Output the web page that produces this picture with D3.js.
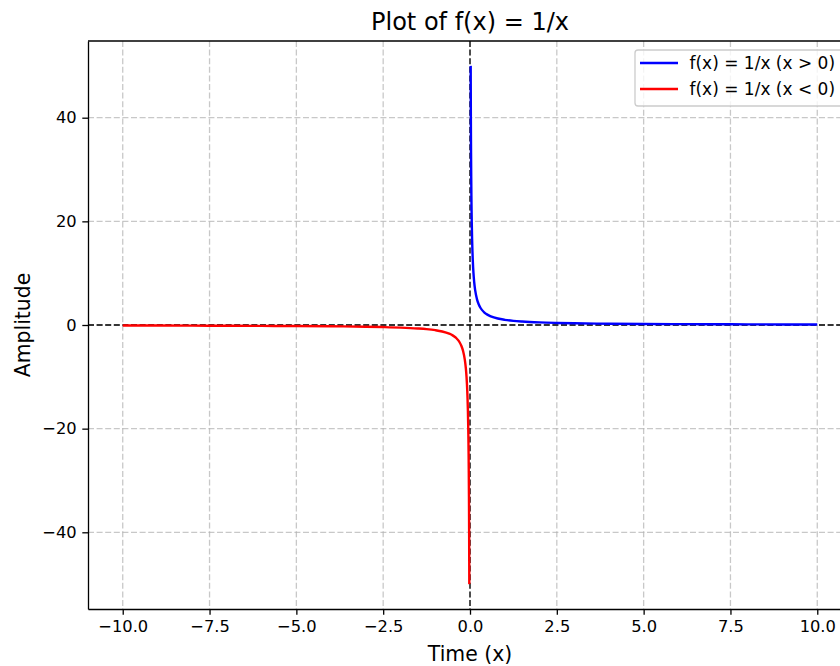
<!DOCTYPE html>
<html><head><meta charset="utf-8">
<script src="https://cdn.jsdelivr.net/npm/d3@7"></script>
<style>body{margin:0;background:#fff}svg{display:block}text{font-family:"DejaVu Sans",sans-serif}</style>
</head><body><svg id="c" width="840" height="666"></svg>
<script>
// data
const posX = [0.02,0.022,0.025,0.028,0.03,0.035,0.04,0.045,0.05,0.06,0.07,0.08,0.1,0.12,0.15,0.2,0.25,0.3,0.4,0.5,0.6,0.8,1,1.25,1.5,2,2.5,3,4,5,6,7,8,9,10];
const posY = [50,45.5,40,35.7,33.3,28.6,25,22.2,20,16.7,14.3,12.5,10,8.33,6.67,5,4,3.33,2.5,2,1.67,1.25,1,0.8,0.67,0.5,0.4,0.33,0.25,0.2,0.17,0.14,0.125,0.11,0.1];
const negX = [-10,-9,-8,-7,-6,-5,-4,-3,-2.5,-2,-1.5,-1.25,-1,-0.8,-0.6,-0.5,-0.4,-0.3,-0.25,-0.2,-0.15,-0.12,-0.1,-0.08,-0.07,-0.06,-0.05,-0.045,-0.04,-0.035,-0.03,-0.028,-0.025,-0.022,-0.02];
const negY = [-0.1,-0.11,-0.125,-0.14,-0.17,-0.2,-0.25,-0.33,-0.4,-0.5,-0.67,-0.8,-1,-1.25,-1.67,-2,-2.5,-3.33,-4,-5,-6.67,-8.33,-10,-12.5,-14.3,-16.7,-20,-22.2,-25,-28.6,-33.3,-35.7,-40,-45.5,-50];
const xTicks = [-10,-7.5,-5,-2.5,0,2.5,5,7.5,10];
const yTicks = [-40,-20,0,20,40];
const seriesNames = ["f(x) = 1/x (x > 0)","f(x) = 1/x (x < 0)"];
const seriesColors = ["#0000ff","#ff0000"];

const svg = d3.select("#c");
const L=88, R=852, T=41, B=609;
const x = d3.scaleLinear().domain([-11,11]).range([L,R]);
const y = d3.scaleLinear().domain([-54.8,54.8]).range([B,T]);
const minus = s => s.replace(/-/g,"\u2212");
const DASH = "6,2.6";

const g = svg.append("g");
// grid
g.append("g").selectAll("line").data(xTicks).join("line")
 .attr("x1",d=>x(d)).attr("x2",d=>x(d)).attr("y1",T).attr("y2",B)
 .attr("stroke","#b0b0b0").attr("stroke-opacity",0.7).attr("stroke-width",1.3).attr("stroke-dasharray",DASH);
g.append("g").selectAll("line").data(yTicks).join("line")
 .attr("y1",d=>y(d)).attr("y2",d=>y(d)).attr("x1",L).attr("x2",R)
 .attr("stroke","#b0b0b0").attr("stroke-opacity",0.7).attr("stroke-width",1.3).attr("stroke-dasharray",DASH);

// zero lines
g.append("line").attr("x1",L).attr("x2",R).attr("y1",y(0)).attr("y2",y(0))
 .attr("stroke","#000").attr("stroke-width",1.3).attr("stroke-dasharray",DASH);
g.append("line").attr("x1",x(0)).attr("x2",x(0)).attr("y1",T).attr("y2",B)
 .attr("stroke","#000").attr("stroke-width",1.3).attr("stroke-dasharray",DASH);

const line = d3.line().x(d=>x(d[0])).y(d=>y(d[1])).curve(d3.curveMonotoneX);
g.append("path").datum(posX.map((v,i)=>[v,posY[i]])).attr("d",line)
 .attr("fill","none").attr("stroke",seriesColors[0]).attr("stroke-width",2.4);
g.append("path").datum(negX.map((v,i)=>[v,negY[i]])).attr("d",line)
 .attr("fill","none").attr("stroke",seriesColors[1]).attr("stroke-width",2.4);

// axes
const xa = svg.append("g").attr("transform",`translate(0,${B})`)
 .call(d3.axisBottom(x).tickValues(xTicks).tickFormat(d=>minus(d3.format(".1f")(d))).tickSizeOuter(0).tickSizeInner(5.7).tickPadding(5.7));
const ya = svg.append("g").attr("transform",`translate(${L},0)`)
 .call(d3.axisLeft(y).tickValues(yTicks).tickFormat(d=>minus(String(d))).tickSizeOuter(0).tickSizeInner(5.7).tickPadding(5.7));
[xa,ya].forEach(a=>{a.selectAll("text").attr("font-size",16.3).attr("fill","#000").attr("font-family","DejaVu Sans");
 a.selectAll(".tick line").attr("stroke","#000").attr("stroke-width",1.3);
 a.select(".domain").attr("stroke","#000").attr("stroke-width",1.3);});
// spines top/right
svg.append("line").attr("x1",L).attr("x2",R).attr("y1",T).attr("y2",T).attr("stroke","#000").attr("stroke-width",1.3);
svg.append("line").attr("x1",R).attr("x2",R).attr("y1",T).attr("y2",B).attr("stroke","#000").attr("stroke-width",1.3);

// title, labels
svg.append("text").attr("x",(L+R)/2).attr("y",30).attr("text-anchor","middle").attr("font-size",24).text("Plot of f(x) = 1/x");
svg.append("text").attr("x",(L+R)/2).attr("y",660.5).attr("text-anchor","middle").attr("font-size",20.4).text("Time (x)");
svg.append("text").attr("transform",`translate(29.5,${(T+B)/2}) rotate(-90)`).attr("text-anchor","middle").attr("font-size",20.4).text("Amplitude");

// legend
const lg = svg.append("g");
lg.append("rect").attr("x",635).attr("y",50).attr("width",215).attr("height",56).attr("rx",3)
 .attr("fill","#fff").attr("fill-opacity",0.8).attr("stroke","#cccccc").attr("stroke-width",1.3);
seriesNames.forEach((n,i)=>{
  const yy = 63 + i*26;
  lg.append("line").attr("x1",640).attr("x2",678).attr("y1",yy).attr("y2",yy).attr("stroke",seriesColors[i]).attr("stroke-width",2.4);
  lg.append("text").attr("x",689.5).attr("y",yy+6).attr("font-size",17).text(n);
});
</script></body></html>
